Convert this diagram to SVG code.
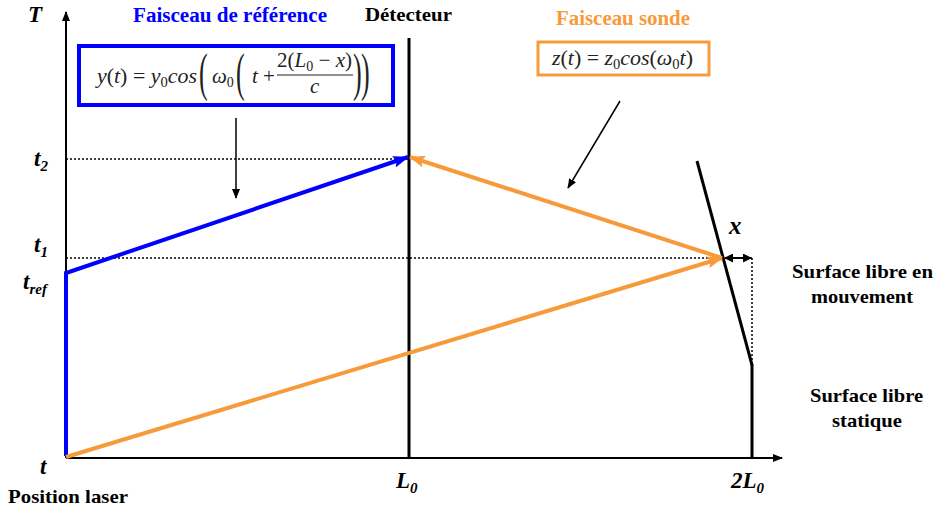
<svg xmlns="http://www.w3.org/2000/svg" width="937" height="514" viewBox="0 0 937 514">
<style>
text{font-family:"Liberation Serif","Times New Roman","DejaVu Serif",serif}
.lbl{font-weight:bold;font-size:19px;fill:#000}
.mi{font-style:italic;font-weight:bold;font-size:23px;fill:#000}
.s{font-size:15px}
.eq{font-style:italic;font-size:21px;fill:#222}
.up{font-style:normal;font-size:21px;fill:#222}
.big{font-size:52px;fill:#222}
.sub{font-style:normal;font-size:14px;fill:#222}
.dot{stroke:#000;stroke-width:1.5;stroke-dasharray:2 2;fill:none}
</style>
<defs>
<marker id="ak" markerWidth="10" markerHeight="8" refX="9" refY="4" orient="auto" markerUnits="userSpaceOnUse"><path d="M0,0 L10,4 L0,8 Z" fill="#000"/></marker>
<marker id="ab" markerWidth="16" markerHeight="12" refX="15" refY="6" orient="auto" markerUnits="userSpaceOnUse"><path d="M0,0 L16,6 L0,12 L3,6 Z" fill="#0000FF"/></marker>
<marker id="ao" markerWidth="16" markerHeight="12" refX="15" refY="6" orient="auto" markerUnits="userSpaceOnUse"><path d="M0,0 L16,6 L0,12 L3,6 Z" fill="#F79A3A"/></marker>
<marker id="ax" markerWidth="9" markerHeight="9" refX="8" refY="4.5" orient="auto-start-reverse" markerUnits="userSpaceOnUse"><path d="M0,0 L9,4.5 L0,9 Z" fill="#000"/></marker>
</defs>

<g id="axes">
<line x1="66" y1="458" x2="66" y2="12" stroke="#000" stroke-width="2" marker-end="url(#ak)"/>
<line x1="66" y1="458" x2="782" y2="458" stroke="#000" stroke-width="2" marker-end="url(#ak)"/>
<text class="mi" x="28" y="22">T</text>
<text class="mi" x="34" y="166">t<tspan class="s" dy="5">2</tspan></text>
<text class="mi" x="34" y="252">t<tspan class="s" dy="5">1</tspan></text>
<text class="mi" x="23" y="289">t<tspan class="s" dy="5">ref</tspan></text>
<text class="mi" x="40" y="474">t</text>
<text class="lbl" x="8" y="503" textLength="120" lengthAdjust="spacingAndGlyphs">Position laser</text>
<text class="mi" x="396" y="488">L<tspan class="s" dy="5">0</tspan></text>
<text class="mi" x="731" y="488">2L<tspan class="s" dy="5">0</tspan></text>
</g>

<g id="detecteur">
<line x1="409" y1="38" x2="409" y2="458" stroke="#000" stroke-width="3"/>
<text class="lbl" x="365" y="21" textLength="87" lengthAdjust="spacingAndGlyphs">Détecteur</text>
</g>

<g id="surface">
<line x1="697" y1="161" x2="752" y2="365" stroke="#000" stroke-width="3"/>
<line x1="752" y1="364" x2="752" y2="458" stroke="#000" stroke-width="3"/>
<text class="lbl" x="792" y="278" textLength="141" lengthAdjust="spacingAndGlyphs">Surface libre en</text>
<text class="lbl" x="811" y="303" textLength="102" lengthAdjust="spacingAndGlyphs">mouvement</text>
<text class="lbl" x="810" y="402" textLength="113" lengthAdjust="spacingAndGlyphs">Surface libre</text>
<text class="lbl" x="832" y="427" textLength="70" lengthAdjust="spacingAndGlyphs">statique</text>
</g>

<g id="guides">
<line class="dot" x1="66" y1="159" x2="408" y2="159"/>
<line class="dot" x1="66" y1="258" x2="752" y2="258"/>
<line class="dot" x1="752" y1="258" x2="752" y2="365"/>
</g>

<g id="x-dim">
<line x1="725" y1="258" x2="751" y2="258" stroke="#000" stroke-width="2" marker-start="url(#ax)" marker-end="url(#ax)"/>
<text class="mi" x="729" y="234" style="font-size:25px">x</text>
</g>

<g id="ref-beam">
<text x="133" y="22" textLength="194" lengthAdjust="spacingAndGlyphs" style="font-weight:bold;font-size:20px;fill:#0000FF">Faisceau de référence</text>
<rect x="79" y="46" width="314" height="59" fill="#fff" stroke="#0000FF" stroke-width="4"/>
<text class="eq" x="97" y="83" textLength="100" lengthAdjust="spacingAndGlyphs">y<tspan class="up">(</tspan>t<tspan class="up">) = </tspan>y<tspan class="sub" dy="4">0</tspan><tspan dy="-4">cos</tspan></text>
<text class="big" x="0" y="0" transform="translate(199 90) scale(0.5 1)">(</text>
<text class="eq" x="212" y="83">ω<tspan class="sub" dy="4">0</tspan></text>
<text class="big" x="0" y="0" transform="translate(236 90) scale(0.5 1)">(</text>
<text class="eq" x="252" y="83">t <tspan class="up">+</tspan></text>
<text class="up" x="277" y="67" textLength="75" lengthAdjust="spacingAndGlyphs">2(<tspan class="eq">L</tspan><tspan class="sub" dy="4">0</tspan><tspan dy="-4"> − </tspan><tspan class="eq">x</tspan>)</text>
<line x1="277" y1="75" x2="353" y2="75" stroke="#222" stroke-width="1"/>
<text class="eq" x="310" y="93">c</text>
<text class="big" x="0" y="0" transform="translate(353 90) scale(0.5 1)">)</text>
<text class="big" x="0" y="0" transform="translate(361 90) scale(0.5 1)">)</text>
</g>

<g id="sonde-beam">
<text x="556" y="25" textLength="134" lengthAdjust="spacingAndGlyphs" style="font-weight:bold;font-size:20px;fill:#F79A3A">Faisceau sonde</text>
<rect x="538" y="42" width="171" height="33" fill="#fff" stroke="#F79A3A" stroke-width="3"/>
<text class="eq" x="552" y="65" textLength="141" lengthAdjust="spacingAndGlyphs">z<tspan class="up">(</tspan>t<tspan class="up">) = </tspan>z<tspan class="sub" dy="4">0</tspan><tspan dy="-4">cos</tspan><tspan class="up">(</tspan>ω<tspan class="sub" dy="4">0</tspan><tspan dy="-4">t</tspan><tspan class="up">)</tspan></text>
</g>

<g id="connectors">
<polyline points="66,456 66,273 408,157" fill="none" stroke="#0000FF" stroke-width="4" marker-end="url(#ab)"/>
<line x1="66" y1="457" x2="722" y2="258" stroke="#F79A3A" stroke-width="4" marker-end="url(#ao)"/>
<line x1="722" y1="258" x2="410" y2="157" stroke="#F79A3A" stroke-width="4" marker-end="url(#ao)"/>
<line x1="236" y1="118" x2="236" y2="198" stroke="#000" stroke-width="1.5" marker-end="url(#ak)"/>
<line x1="620" y1="101" x2="568" y2="188" stroke="#000" stroke-width="1.5" marker-end="url(#ak)"/>
</g>
</svg>
